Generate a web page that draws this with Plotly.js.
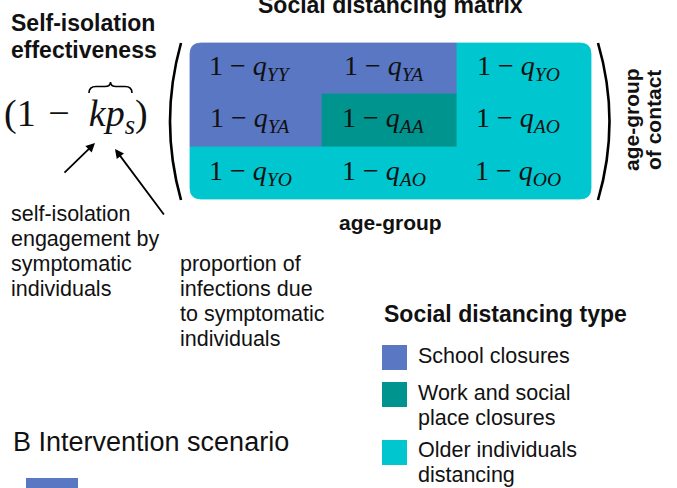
<!DOCTYPE html>
<html>
<head>
<meta charset="utf-8">
<script src="https://cdn.plot.ly/plotly-3.0.1.min.js"></script>
<style>html,body{margin:0;padding:0;background:#fff;}#chart{width:677px;height:488px;}</style>
</head>
<body>
<div id="chart"></div>
<script>
// ---- data ----
const cellSubscripts = [
  ['YY', 'YA', 'YO'],
  ['YA', 'AA', 'AO'],
  ['YO', 'AO', 'OO']
];
const cellType = [
  [0, 0, 2],
  [0, 1, 2],
  [2, 2, 2]
];
const typeNames = [['School closures'], ['Work and social', 'place closures'], ['Older individuals', 'distancing']];
const typeColors = ['#5A77C4', '#00948F', '#00C6CF'];
const annotLeft = ['self-isolation', 'engagement by', 'symptomatic', 'individuals'];
const annotRight = ['proportion of', 'infections due', 'to symptomatic', 'individuals'];

// ---- layout constants ----
const colEdges = [190, 322, 457, 591];
const rowEdges = [43, 94, 147, 199];
const R = 11;
const SANS = 'Liberation Sans, Arial, sans-serif';
const SERIF = 'Liberation Serif, Times New Roman, serif';

const shapes = [];
const annotations = [];

function roundedPath(x0, x1, y0, y1, tl, tr, br, bl) {
  let p = `M ${x0 + tl},${y0} L ${x1 - tr},${y0}`;
  if (tr) p += ` Q ${x1},${y0} ${x1},${y0 + tr}`;
  p += ` L ${x1},${y1 - br}`;
  if (br) p += ` Q ${x1},${y1} ${x1 - br},${y1}`;
  p += ` L ${x0 + bl},${y1}`;
  if (bl) p += ` Q ${x0},${y1} ${x0},${y1 - bl}`;
  p += ` L ${x0},${y0 + tl}`;
  if (tl) p += ` Q ${x0},${y0} ${x0 + tl},${y0}`;
  return p + ' Z';
}

// matrix cells
for (let i = 0; i < 3; i++) {
  for (let j = 0; j < 3; j++) {
    const c = typeColors[cellType[i][j]];
    const tl = (i === 0 && j === 0) ? R : 0;
    const tr = (i === 0 && j === 2) ? R : 0;
    const br = (i === 2 && j === 2) ? R : 0;
    const bl = (i === 2 && j === 0) ? R : 0;
    shapes.push({type: 'path', xref: 'x', yref: 'y', layer: 'below',
      path: roundedPath(colEdges[j], colEdges[j + 1], rowEdges[i], rowEdges[i + 1], tl, tr, br, bl),
      fillcolor: c, line: {color: c, width: 0.8}});
    annotations.push({x: (colEdges[j] + colEdges[j + 1]) / 2 - 6, y: (rowEdges[i] + rowEdges[i + 1]) / 2 - 1,
      xref: 'x', yref: 'y', showarrow: false, xanchor: 'center', yanchor: 'middle',
      text: `1 − <i>q</i><sub><i>${cellSubscripts[i][j]}</i></sub>`,
      font: {family: SERIF, size: 28, color: '#111'}});
  }
}

// big parentheses
shapes.push({type: 'path', xref: 'x', yref: 'y', path: 'M 181,43 Q 159,121.5 181,200', line: {color: '#000', width: 2.6}});
shapes.push({type: 'path', xref: 'x', yref: 'y', path: 'M 598,43 Q 621,121.5 598,200', line: {color: '#000', width: 2.6}});

// overbrace over "kp"
shapes.push({type: 'path', xref: 'x', yref: 'y',
  path: 'M 89,93 Q 89,86.5 96,86.5 L 105,86.5 Q 110.5,86.5 110.5,82 Q 110.5,86.5 116,86.5 L 125,86.5 Q 132,86.5 132,93',
  line: {color: '#000', width: 1.6}});

// bottom blue bar (panel B)
shapes.push({type: 'rect', xref: 'x', yref: 'y', x0: 26, x1: 78, y0: 478, y1: 492,
  fillcolor: typeColors[0], line: {width: 0}});

// text helper: lines with baselines
function addLines(lines, x, baseline0, step, size, bold, anchor) {
  lines.forEach((t, k) => {
    annotations.push({x: x, y: baseline0 + k * step - 0.35 * size, xref: 'x', yref: 'y',
      showarrow: false, xanchor: anchor || 'left', yanchor: 'middle',
      text: bold ? `<b>${t}</b>` : t,
      font: {family: SANS, size: size, color: '#111'}});
  });
}

addLines(['Self-isolation', 'effectiveness'], 9, 31, 27, 23, true, 'left');
addLines(['Social distancing matrix'], 390, 13.5, 0, 23, true, 'center');
addLines(['age-group'], 390, 230, 0, 21, true, 'center');
addLines(annotLeft, 9, 222, 25, 21.5, false, 'left');
addLines(annotRight, 178, 272, 25, 21.5, false, 'left');
addLines(['Social distancing type'], 382, 322, 0, 23, true, 'left');
addLines(['B Intervention scenario'], 11, 451, 0, 27, false, 'left');

// rotated label
annotations.push({x: 631, y: 120, xref: 'x', yref: 'y', showarrow: false, textangle: -90,
  text: '<b>age-group</b>', font: {family: SANS, size: 21, color: '#111'}});
annotations.push({x: 653, y: 120, xref: 'x', yref: 'y', showarrow: false, textangle: -90,
  text: '<b>of contact</b>', font: {family: SANS, size: 21, color: '#111'}});

// formula
annotations.push({x: 2, y: 116, xref: 'x', yref: 'y', showarrow: false, xanchor: 'left', yanchor: 'middle',
  text: '(1\u2004−\u2002<i>kp</i><sub><i>s</i></sub>)', font: {family: SERIF, size: 38, color: '#111'}});

// arrows
annotations.push({x: 95, y: 143, ax: 63, ay: 174, xref: 'x', yref: 'y', axref: 'x', ayref: 'y',
  text: '', showarrow: true, arrowhead: 2, arrowsize: 1, arrowwidth: 1.8, arrowcolor: '#000'});
annotations.push({x: 115, y: 149, ax: 165, ay: 216, xref: 'x', yref: 'y', axref: 'x', ayref: 'y',
  text: '', showarrow: true, arrowhead: 2, arrowsize: 1, arrowwidth: 1.8, arrowcolor: '#000'});

// legend
const legendTops = [345, 382, 440];
const legendBaselines = [364, 401, 458];
typeNames.forEach((lines, i) => {
  shapes.push({type: 'rect', xref: 'x', yref: 'y', x0: 382, x1: 407, y0: legendTops[i], y1: legendTops[i] + 25,
    fillcolor: typeColors[i], line: {width: 0}});
  addLines(lines, 416, legendBaselines[i], 25, 21.5, false, 'left');
});

const layout = {
  width: 677, height: 488,
  margin: {l: 0, r: 0, t: 0, b: 0},
  paper_bgcolor: '#fff', plot_bgcolor: '#fff',
  showlegend: false,
  xaxis: {range: [0, 677], visible: false, fixedrange: true},
  yaxis: {range: [488, 0], visible: false, fixedrange: true},
  shapes: shapes,
  annotations: annotations
};

Plotly.newPlot('chart', [{x: [], y: [], type: 'scatter'}], layout, {displayModeBar: false, staticPlot: true});
</script>
</body>
</html>
